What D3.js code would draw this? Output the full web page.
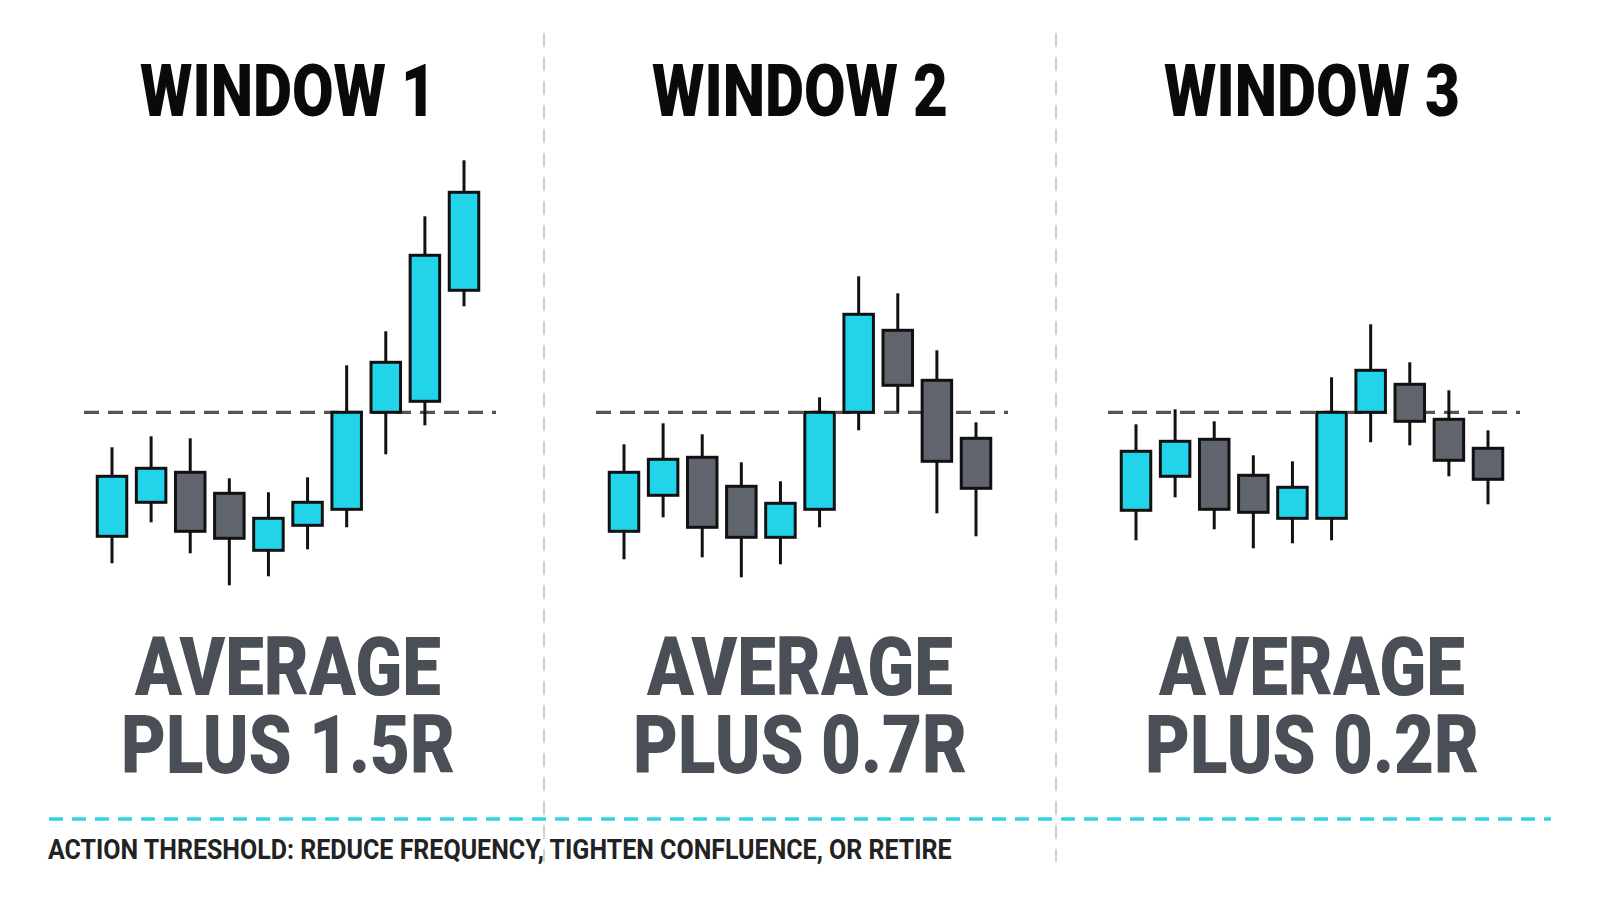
<!DOCTYPE html>
<html>
<head>
<meta charset="utf-8">
<script src="https://cdn.jsdelivr.net/npm/d3@7"></script>
<style>
  html, body { margin: 0; padding: 0; background: #fff; }
  svg { display: block; }
</style>
</head>
<body>
<script>
// window labels
const windowNames = ["WINDOW 1", "WINDOW 2", "WINDOW 3"];
const resultLabels = ["PLUS 1.5R", "PLUS 0.7R", "PLUS 0.2R"];
const footerText = "ACTION THRESHOLD: REDUCE FREQUENCY, TIGHTEN CONFLUENCE, OR RETIRE";

// threshold level (R units, 0 = average line)
const threshold = 0;

// candles per window: open, high, low, close
const window1 = [
  { o: -12.4, h: -3.5, l: -15.1, c: -6.4 },
  { o: -9.0, h: -2.4, l: -11.0, c: -5.6 },
  { o: -6.0, h: -2.6, l: -14.1, c: -11.9 },
  { o: -8.1, h: -6.6, l: -17.3, c: -12.6 },
  { o: -13.8, h: -8.0, l: -16.4, c: -10.6 },
  { o: -11.3, h: -6.5, l: -13.7, c: -9.0 },
  { o: -9.7, h: 4.7, l: -11.5, c: 0 },
  { o: 0, h: 8.1, l: -4.2, c: 5.0 },
  { o: 1.1, h: 19.6, l: -1.3, c: 15.7 },
  { o: 12.2, h: 25.2, l: 10.6, c: 22.0 }
];
const window2 = [
  { o: -11.9, h: -3.2, l: -14.7, c: -6.0 },
  { o: -8.3, h: -1.1, l: -10.5, c: -4.7 },
  { o: -4.5, h: -2.2, l: -14.5, c: -11.5 },
  { o: -7.4, h: -5.0, l: -16.5, c: -12.5 },
  { o: -12.5, h: -6.9, l: -15.2, c: -9.1 },
  { o: -9.7, h: 1.5, l: -11.5, c: 0 },
  { o: 0, h: 13.6, l: -1.8, c: 9.8 },
  { o: 8.2, h: 11.9, l: 0, c: 2.7 },
  { o: 3.2, h: 6.2, l: -10.1, c: -4.9 },
  { o: -2.6, h: -1.0, l: -12.4, c: -7.6 }
];
const window3 = [
  { o: -9.8, h: -1.2, l: -12.8, c: -3.9 },
  { o: -6.4, h: 0.3, l: -8.5, c: -2.9 },
  { o: -2.7, h: -0.9, l: -11.7, c: -9.7 },
  { o: -6.3, h: -4.3, l: -13.6, c: -10.0 },
  { o: -10.6, h: -4.9, l: -13.1, c: -7.5 },
  { o: -10.6, h: 3.5, l: -12.8, c: 0 },
  { o: 0, h: 8.8, l: -3.0, c: 4.2 },
  { o: 2.8, h: 5.0, l: -3.3, c: -0.9 },
  { o: -0.7, h: 2.2, l: -6.4, c: -4.8 },
  { o: -3.6, h: -1.8, l: -9.2, c: -6.7 }
];
const windows = [window1, window2, window3];

const width = 1600, height = 900;
const upColor = "#22d4ea", downColor = "#60646d", edge = "#111";

const svg = d3.select("body").append("svg")
  .attr("width", width)
  .attr("height", height);

// one column per window
const colScale = d3.scalePoint().domain(windowNames).range([288, 1312]);
const yScale = d3.scaleLinear().domain([-20, 30]).range([612.3, 112.3]);

const fontStack = "Roboto, 'Noto Sans', sans-serif";

// vertical dividers between windows
const dividers = [0.5, 1.5];
svg.selectAll("line.divider")
  .data(dividers)
  .enter().append("line")
    .attr("class", "divider")
    .attr("x1", d => 288 + d * colScale.step())
    .attr("x2", d => 288 + d * colScale.step())
    .attr("y1", 33)
    .attr("y2", 862)
    .attr("stroke", "#d2d2d2")
    .attr("stroke-width", 2)
    .attr("stroke-dasharray", "14 10");

// horizontal factor so a text's natural width becomes refWidth
function condense(node, refWidth) {
  return refWidth / node.getComputedTextLength();
}

windowNames.forEach((name, wi) => {
  const cx = colScale(name);
  const g = svg.append("g");

  // title
  const title = g.append("text")
    .text(name)
    .attr("text-anchor", "middle")
    .attr("font-family", fontStack)
    .attr("font-weight", 900)
    .attr("font-size", 73)
    .attr("fill", "#0a0a0a");
  const kt = condense(title.node(), 296);
  title.attr("transform", `translate(${cx},116) scale(${kt},1)`);

  // candles
  const xScale = d3.scalePoint()
    .domain(d3.range(windows[wi].length))
    .range([cx - 176, cx + 176]);
  const bodyW = 29.5;

  // threshold line
  g.append("line")
    .attr("x1", cx - 204)
    .attr("x2", cx + 208)
    .attr("y1", yScale(threshold))
    .attr("y2", yScale(threshold))
    .attr("stroke", "#545454")
    .attr("stroke-width", 3.2)
    .attr("stroke-dasharray", "15 9");

  g.selectAll("line.wick")
    .data(windows[wi])
    .enter().append("line")
      .attr("class", "wick")
      .attr("x1", (d, i) => xScale(i))
      .attr("x2", (d, i) => xScale(i))
      .attr("y1", d => yScale(d.h))
      .attr("y2", d => yScale(d.l))
      .attr("stroke", edge)
      .attr("stroke-width", 3);

  g.selectAll("rect.body")
    .data(windows[wi])
    .enter().append("rect")
      .attr("class", "body")
      .attr("x", (d, i) => xScale(i) - bodyW / 2)
      .attr("y", d => yScale(Math.max(d.o, d.c)))
      .attr("width", bodyW)
      .attr("height", d => Math.abs(yScale(d.o) - yScale(d.c)))
      .attr("fill", d => d.c >= d.o ? upColor : downColor)
      .attr("stroke", edge)
      .attr("stroke-width", 3);

  // result text, two lines in one element
  const res = g.append("text")
    .attr("text-anchor", "middle")
    .attr("font-family", fontStack)
    .attr("font-weight", 900)
    .attr("font-size", 82)
    .attr("fill", "#4a4e56");
  const l1 = res.append("tspan").attr("x", 0).attr("y", 0).text("AVERAGE");
  const ka = condense(l1.node(), 306);
  const l2 = res.append("tspan").attr("x", 0).attr("y", 78 / 1).text(resultLabels[wi]);
  res.attr("transform", `translate(${cx},695) scale(${ka},1)`);
  // second line sits a bit wider in the reference
  const kp = condense(l2.node(), 334) / ka;
  l2.attr("font-size", 82 * Math.min(kp, 1.04));
});

// action threshold line across the bottom
svg.append("line")
  .attr("x1", 49)
  .attr("x2", 1551)
  .attr("y1", 819)
  .attr("y2", 819)
  .attr("stroke", "#2ed6e6")
  .attr("stroke-width", 3.5)
  .attr("stroke-dasharray", "14 9");

const foot = svg.append("text")
  .text(footerText)
  .attr("font-family", fontStack)
  .attr("font-weight", 700)
  .attr("font-size", 28)
  .attr("fill", "#222");
const kf = condense(foot.node(), 904);
foot.attr("transform", `translate(48,859) scale(${kf},1)`);
</script>
</body>
</html>
